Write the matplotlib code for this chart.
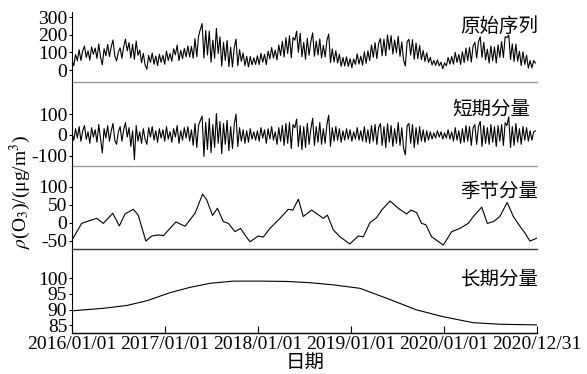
import numpy as np
import matplotlib
matplotlib.use('Agg')
import matplotlib.pyplot as plt
from matplotlib.lines import Line2D

plt.rcParams['font.family'] = ['Liberation Serif', 'Noto Sans CJK SC']
plt.rcParams['mathtext.fontset'] = 'stix'
plt.rcParams['axes.unicode_minus'] = False

# --- data (weekly samples from 2016/01/01) ---
START = np.datetime64('2016-01-01')
END = np.datetime64('2020-12-31')

raw = [52, 25, 89, 52, 116, 54, 109, 136, 72, 109, 56, 132, 89,
       125, 66, 148, 74, 30, 121, 81, 146, 77, 132, 171, 81, 52,
       102, 126, 67, 133, 176, 109, 156, 69, 147, 60, 165, 84, 114,
       42, 95, 29, 5, 84, 43, 97, 33, 79, 25, 90, 44, 84,
       33, 108, 54, 94, 50, 121, 86, 142, 54, 112, 65, 123, 75,
       137, 74, 135, 67, 178, 76, 193, 231, 264, 69, 225, 85, 222,
       44, 170, 67, 237, 94, 188, 22, 157, 55, 168, 20, 129, 18,
       127, 176, 24, 116, 50, 97, 25, 78, 17, 77, 30, 69, 32,
       81, 31, 95, 44, 89, 30, 107, 63, 128, 68, 113, 58, 143,
       83, 163, 74, 184, 94, 195, 70, 185, 170, 221, 100, 209, 76,
       157, 61, 180, 84, 162, 211, 78, 164, 86, 177, 69, 140, 74,
       168, 205, 43, 120, 46, 110, 40, 90, 21, 72, 23, 75, 21,
       64, 13, 63, 32, 92, 34, 79, 28, 103, 38, 109, 54, 143,
       72, 156, 65, 152, 179, 81, 176, 81, 200, 116, 196, 91, 171,
       97, 192, 78, 160, 56, 23, 161, 175, 85, 173, 61, 153, 65,
       140, 59, 111, 49, 98, 43, 72, 29, 55, 26, 58, 24, 45,
       7, 41, 24, 72, 34, 77, 34, 101, 43, 89, 32, 104, 42,
       125, 53, 129, 45, 137, 157, 68, 159, 189, 72, 157, 58, 119,
       40, 137, 53, 131, 40, 143, 72, 162, 71, 189, 185, 199, 60,
       149, 49, 147, 50, 107, 25, 104, 32, 84, 11, 54, 12, 54,
       40]

short = [10, -25, 30, -15, 40, -30, 20, 45, -20, 15, -40, 35, -10,
         25, -35, 50, -20, -86, 30, -15, 45, -30, 20, 55, -25, -45,
         15, 40, -30, 25, 60, -10, 35, -55, 20, -119, 45, -30, 15,
         -40, 30, -20, -45, 35, -10, 40, -25, 20, -35, 30, -15, 25,
         -30, 40, -20, 15, -35, 30, -10, 45, -40, 20, -25, 35, -15,
         40, -30, 25, -50, 55, -60, 45, 70, 90, -103, 60, -70, 80,
         -85, 50, -60, 103, -40, 65, -90, 55, -45, 70, -75, 40, -65,
         50, 100, -55, 35, -30, 25, -40, 20, -35, 30, -20, 15, -25,
         20, -30, 35, -15, 25, -40, 30, -20, 40, -25, 15, -45, 35,
         -30, 45, -50, 55, -40, 60, -65, 50, 35, 76, -55, 45, -70,
         40, -60, 55, -45, 30, 80, -50, 40, -35, 60, -45, 30, -40,
         50, 95, -55, 35, -30, 40, -25, 30, -35, 20, -25, 30, -20,
         25, -30, 15, -20, 35, -25, 20, -30, 40, -35, 25, -40, 45,
         -30, 50, -45, 35, 55, -50, 40, -60, 54, -35, 45, -55, 30,
         -40, 60, -50, 35, -65, -95, 45, 55, -40, 50, -60, 35, -45,
         40, -30, 25, -35, 20, -25, 15, -20, 10, -15, 20, -10, 15,
         -20, 10, -15, 25, -20, 15, -30, 35, -25, 20, -40, 30, -35,
         45, -30, 40, -50, 35, 50, -45, 40, 65, -55, 45, -40, 35,
         -45, 50, -35, 40, -55, 45, -30, 50, -50, 59, 45, 87, -60,
         40, -50, 55, -35, 30, -45, 40, -25, 35, -30, 20, -25, 15,
         20]

# seasonal component: day offset from 2016/01/01 and value
season_day = [0, 38, 58, 97, 123, 160, 186, 208, 241, 260, 290, 313, 339, 359,
              385, 408, 444, 483, 513, 529, 552, 571, 594, 614, 640, 662, 679,
              699, 731, 751, 777, 817, 849, 867, 889, 908, 941, 987, 1003, 1026,
              1052, 1091, 1124, 1144, 1170, 1196, 1216, 1249, 1281, 1314, 1331,
              1353, 1373, 1390, 1412, 1458, 1491, 1523, 1556, 1576, 1609, 1631,
              1655, 1680, 1709, 1733, 1759, 1779, 1798, 1825]
season_val = [-48, -2, 3, 12, -2, 26, -9, 24, 37, 21, -51, -37, -34, -36,
              -16, 2, -10, 26, 79, 63, 20, 40, 3, -2, -25, -16, -34,
              -53, -37, -40, -16, 12, 37, 35, 65, 17, 35, 12, 21, -20,
              -39, -59, -37, -39, 0, 14, 35, 60, 40, 24, 35,
              28, -2, -6, -39, -62, -25, -16, -2, 17, 43, -2,
              3, 17, 56, 17, -10, -29, -51, -43]

# long-term component
trend_day = [0, 123, 215, 293, 385, 463, 542, 633, 751, 843, 934, 1026,
             1131, 1236, 1353, 1458, 1576, 1680, 1825]
trend_val = [89.6, 90.4, 91.3, 92.8, 95.4, 97.1, 98.4, 99.1, 99.1, 99.0, 98.6, 97.9,
             96.8, 93.6, 89.9, 87.7, 85.8, 85.3, 85.1]

panel_names = ['原始序列', '短期分量', '季节分量', '长期分量']
tick_dates = ['2016-01-01', '2017-01-01', '2018-01-01', '2019-01-01', '2020-01-01', '2020-12-31']
tick_labels = ['2016/01/01', '2017/01/01', '2018/01/01', '2019/01/01', '2020/01/01', '2020/12/31']

week_dates = START + np.arange(len(raw)) * np.timedelta64(7, 'D')
short_dates = START + np.arange(len(short)) * np.timedelta64(7, 'D')
season_dates = START + np.array(season_day) * np.timedelta64(1, 'D')
trend_dates = START + np.array(trend_day) * np.timedelta64(1, 'D')

# --- figure ---
W, H = 587, 374
fig = plt.figure(figsize=(W / 100, H / 100), dpi=100)

left_px, right_px = 72, 537
panels_px = [(12, 82), (96, 166), (179, 249), (263, 333)]
ylims = [(-68, 330), (-149, 187), (-73, 121), (82.5, 104.9)]
yticks = [[0, 100, 200, 300], [-100, 0, 100], [-50, 0, 50, 100], [85, 90, 95, 100]]
name_pos = [(1.003, 0.79), (0.985, 0.80), (1.003, 0.81), (1.003, 0.76)]
bottom_colors = ['#9a9a9a', '#9a9a9a', '#333333', 'black']

series = [(week_dates, raw), (short_dates, short),
          (season_dates, season_val), (trend_dates, trend_val)]

axes = []
for i, (top, bot) in enumerate(panels_px):
    ax = fig.add_axes([left_px / W, 1 - bot / H, (right_px - left_px) / W, (bot - top) / H])
    x, y = series[i]
    ax.plot(x, y, color='black', lw=0.8)
    ax.set_xlim(START, END)
    ax.set_ylim(*ylims[i])
    ax.set_yticks(yticks[i])
    ax.set_yticklabels([str(v) for v in yticks[i]], fontsize=14)
    ax.tick_params(axis='y', direction='out', length=2.5, width=0.8, pad=1)
    for s in ['top', 'right', 'left']:
        ax.spines[s].set_visible(False)
    ax.spines['bottom'].set_color(bottom_colors[i])
    ax.spines['bottom'].set_linewidth(1.0)
    ax.patch.set_alpha(0)
    ax.text(name_pos[i][0], name_pos[i][1], panel_names[i], transform=ax.transAxes,
            ha='right', va='center', fontsize=14)
    if i < 3:
        ax.set_xticks([])
    else:
        ax.set_xticks([np.datetime64(d) for d in tick_dates])
        ax.set_xticklabels(tick_labels, fontsize=14)
        ax.tick_params(axis='x', direction='in', length=5, width=0.8, pad=2)
    axes.append(ax)

# continuous left axis line
fig.add_artist(Line2D([left_px / W, left_px / W], [1 - 333 / H, 1 - 12 / H],
                      transform=fig.transFigure, color='black', lw=0.8))

fig.text(20 / W, 1 - 192 / H, r'$\rho$(O$_3$)/(μg/m$^3$)', rotation=90,
         ha='center', va='center', fontsize=14)
fig.text(305 / W, 1 - 363 / H, '日期', ha='center', va='center', fontsize=14)

fig.savefig('out.png', dpi=100)
